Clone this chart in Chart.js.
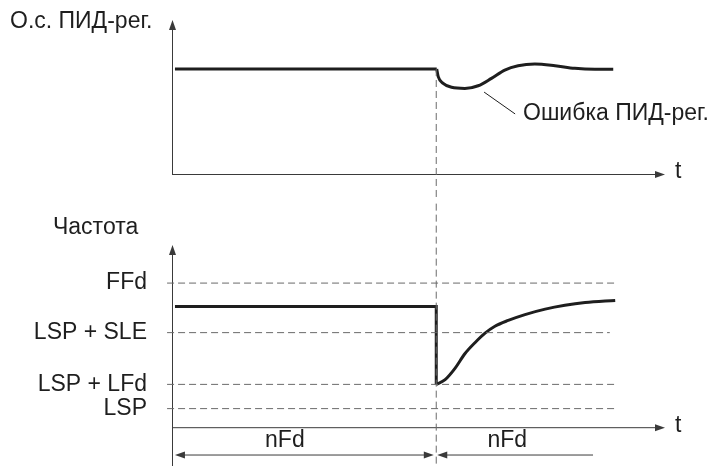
<!DOCTYPE html>
<html lang="ru">
<head>
<meta charset="UTF-8" />
<title>ПИД-рег. / Частота</title>
<script src="https://cdn.jsdelivr.net/npm/chart.js"></script>
<style>
  html, body { margin: 0; padding: 0; background: #fff; }
  .panel { position: absolute; left: 0; width: 709px; }
  #top { top: 0; height: 200px; }
  #bottom { top: 200px; height: 266px; }
</style>
</head>
<body>
<div id="top" class="panel"><canvas id="pidChart"></canvas></div>
<div id="bottom" class="panel"><canvas id="freqChart"></canvas></div>
<script>
// time of the event (both panels), x scale runs 0..100
const EVENT_T = 53.6;

// top panel: PID feedback
const PID_FLAT_T = [0.6, 53.7];
const PID_FLAT_V = [68.2, 68.2];
const PID_T = [53.7, 54.0, 55.0, 56.7, 59.4, 62.1, 64.8, 67.5, 70.2, 73.6, 77.7, 81.7, 85.8, 89.5];
const PID_V = [68.2, 63.2, 58.9, 56.3, 55.6, 57.3, 62.1, 67.5, 70.3, 71.4, 70.3, 68.6, 68.0, 68.0];

// bottom panel: frequency
const STEP_T = [0.6, 53.6, 53.6];
const STEP_V = [66.3, 66.3, 23.5];
const RESP_T = [53.6, 55.4, 57.4, 59.4, 61.5, 63.5, 65.5, 68.2, 71.6, 75.7, 79.7, 83.8, 89.9];
const RESP_V = [23.5, 26.1, 32.3, 40.3, 46.5, 51.6, 55.4, 58.6, 61.8, 64.8, 66.9, 68.4, 69.6];

const LEVEL_LABELS = ["LSP", "LSP + LFd", "LSP + SLE", "FFd"];
const LEVEL_V = [10.2, 23.5, 51.9, 79.1];
const LEVEL_END = [90.3, 90.3, 88.8, 90.3];

const NFD_SPANS = [[0.6, 53.1], [53.8, 85.4]];

const FAMILY = '"Liberation Sans", Arial, sans-serif';
const FONT = '23px ' + FAMILY;
const INK = "#1e1e1e";
const AXIS = "#3a3a3a";
const DASH = "#6a6a6a";

function pts(xs, ys) {
  return xs.map((x, i) => ({ x: x, y: ys[i] }));
}

function arrow(ctx, x, y, dir) {
  // dir: 'up', 'right', 'left'
  const len = 10, half = 3.5;
  ctx.beginPath();
  if (dir === "up") {
    ctx.moveTo(x, y); ctx.lineTo(x - half, y + len); ctx.lineTo(x + half, y + len);
  } else if (dir === "right") {
    ctx.moveTo(x, y); ctx.lineTo(x - len, y - half); ctx.lineTo(x - len, y + half);
  } else {
    ctx.moveTo(x, y); ctx.lineTo(x + len, y - half); ctx.lineTo(x + len, y + half);
  }
  ctx.closePath();
  ctx.fill();
}

function axesPlugin(opts) {
  return {
    id: "axesDraw",
    beforeDatasetsDraw(chart) {
      const ctx = chart.ctx;
      const a = chart.chartArea;
      const ys = chart.scales.y;
      const y0 = ys.getPixelForValue(0);
      ctx.save();
      ctx.strokeStyle = AXIS;
      ctx.fillStyle = AXIS;
      ctx.lineWidth = 1;
      // vertical axis
      ctx.beginPath();
      ctx.moveTo(a.left + 0.5, opts.yAxisBottom === "canvas" ? chart.height : y0);
      ctx.lineTo(a.left + 0.5, a.top + 4);
      ctx.stroke();
      arrow(ctx, a.left + 0.5, a.top, "up");
      // horizontal axis
      ctx.beginPath();
      ctx.moveTo(a.left, y0 + 0.5);
      ctx.lineTo(a.right - 4, y0 + 0.5);
      ctx.stroke();
      arrow(ctx, a.right, y0 + 0.5, "right");
      ctx.restore();
    },
    afterDatasetsDraw(chart) {
      const ctx = chart.ctx;
      const a = chart.chartArea;
      const xs = chart.scales.x, ys = chart.scales.y;
      ctx.save();
      ctx.font = FONT;
      ctx.fillStyle = INK;
      ctx.textBaseline = "middle";
      ctx.textAlign = "left";
      ctx.fillText("t", a.right + 10, ys.getPixelForValue(0) - 2);
      ctx.fillText(opts.title, opts.titleX, opts.titleY);
      if (opts.extra) opts.extra(chart, ctx, xs, ys);
      ctx.restore();
    }
  };
}

const lineBase = {
  pointRadius: 0,
  borderColor: INK,
  borderWidth: 3,
  borderCapStyle: "butt",
  borderJoinStyle: "miter",
  fill: false
};

const dashBase = {
  pointRadius: 0,
  borderColor: DASH,
  borderWidth: 1,
  borderDash: [7, 4],
  clip: false,
  fill: false
};

const commonOptions = {
  responsive: true,
  maintainAspectRatio: false,
  animation: false,
  events: [],
  plugins: { legend: { display: false }, tooltip: { enabled: false } },
  elements: { line: { tension: 0 } }
};

// ---- top panel ----
new Chart(document.getElementById("pidChart"), {
  type: "line",
  data: {
    datasets: [
      Object.assign({}, dashBase, {
        data: [{ x: EVENT_T, y: PID_FLAT_V[1] }, { x: EVENT_T, y: -20 }]
      }),
      Object.assign({}, lineBase, { data: pts(PID_FLAT_T, PID_FLAT_V) }),
      Object.assign({}, lineBase, {
        data: pts(PID_T, PID_V),
        cubicInterpolationMode: "monotone"
      })
    ]
  },
  options: Object.assign({}, commonOptions, {
    layout: { padding: { left: 172, right: 44, top: 20, bottom: 26 } },
    scales: {
      x: { type: "linear", min: 0, max: 100, display: false },
      y: { type: "linear", min: 0, max: 100, display: false }
    }
  }),
  plugins: [axesPlugin({
    title: "О.с. ПИД-рег.",
    titleX: 10,
    titleY: 22,
    extra(chart, ctx, xs, ys) {
      // leader line to the curve
      ctx.strokeStyle = INK;
      ctx.lineWidth = 1;
      ctx.beginPath();
      ctx.moveTo(xs.getPixelForValue(63.3), ys.getPixelForValue(53.2));
      ctx.lineTo(xs.getPixelForValue(69.6), ys.getPixelForValue(39.0));
      ctx.stroke();
      ctx.fillText("Ошибка ПИД-рег.", xs.getPixelForValue(71.2), ys.getPixelForValue(39.5));
    }
  })]
});

// ---- bottom panel ----
const levelSets = LEVEL_V.map((v, i) => Object.assign({}, dashBase, {
  data: [{ x: -1, y: v }, { x: LEVEL_END[i], y: v }]
}));

new Chart(document.getElementById("freqChart"), {
  type: "line",
  data: {
    datasets: levelSets.concat([
      Object.assign({}, dashBase, {
        data: [{ x: EVENT_T, y: -20 }, { x: EVENT_T, y: 126 }]
      }),
      Object.assign({}, lineBase, { data: pts(STEP_T, STEP_V) }),
      Object.assign({}, lineBase, {
        data: pts(RESP_T, RESP_V),
        cubicInterpolationMode: "monotone"
      })
    ])
  },
  options: Object.assign({}, commonOptions, {
    layout: { padding: { left: 0, right: 44, top: 45, bottom: 34 } },
    scales: {
      x: { type: "linear", min: 0, max: 100, display: false },
      y: {
        type: "linear",
        min: 0,
        max: 100,
        afterBuildTicks(scale) {
          scale.ticks = LEVEL_V.map(v => ({ value: v }));
        },
        afterFit(scale) {
          scale.width = 172;
        },
        grid: { display: false, drawTicks: false },
        border: { display: false },
        ticks: {
          padding: 25,
          color: INK,
          font: { family: FAMILY, size: 23 },
          callback: (v, i) => LEVEL_LABELS[i]
        }
      }
    }
  }),
  plugins: [axesPlugin({
    title: "Частота",
    titleX: 53,
    titleY: 28,
    yAxisBottom: "canvas",
    extra(chart, ctx, xs, ys) {
      const yDim = ys.getPixelForValue(-15) + 0.5;
      ctx.strokeStyle = AXIS;
      ctx.fillStyle = AXIS;
      ctx.lineWidth = 1;
      NFD_SPANS.forEach((s, i) => {
        const x1 = xs.getPixelForValue(s[0]), x2 = xs.getPixelForValue(s[1]);
        ctx.beginPath();
        ctx.moveTo(x1 + 4, yDim);
        ctx.lineTo(i === 0 ? x2 - 4 : x2, yDim);
        ctx.stroke();
        arrow(ctx, x1, yDim, "left");
        if (i === 0) arrow(ctx, x2, yDim, "right");
      });
      ctx.fillStyle = INK;
      ctx.textAlign = "center";
      const yLab = ys.getPixelForValue(-7.5);
      ctx.fillText("nFd", xs.getPixelForValue(22.9), yLab);
      ctx.fillText("nFd", xs.getPixelForValue(68.0), yLab);
    }
  })]
});
</script>
</body>
</html>
